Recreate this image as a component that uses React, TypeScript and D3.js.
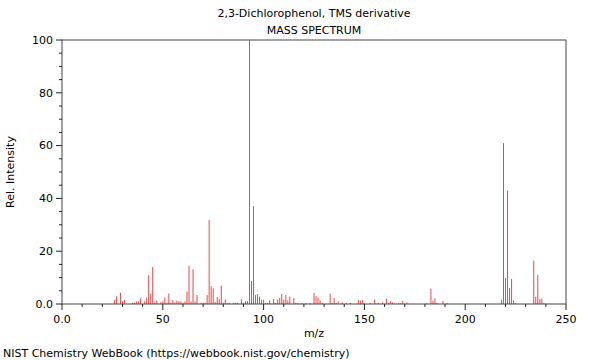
import * as d3 from "d3";

// m/z values and relative intensities
const MZ = [
  26, 27, 29, 30, 31, 35, 36, 37, 38, 39, 41, 42, 43, 44, 45, 46, 47, 49, 50, 51,
  52, 53, 54, 55, 56, 57, 58, 59, 60, 61, 62, 63, 64, 65, 66, 67, 69, 70, 71, 72,
  73, 74, 75, 76, 77, 78, 79, 80, 81, 82, 83, 85, 86, 87, 89, 90, 91, 92, 93, 94,
  95, 96, 97, 98, 99, 100, 101, 102, 103, 105, 106, 107, 108, 109, 110, 111, 112, 113, 115, 116,
  117, 119, 121, 123, 125, 126, 127, 128, 129, 133, 134, 135, 136, 137, 139, 141, 143, 147, 148, 149,
  150, 153, 155, 157, 159, 161, 162, 163, 164, 165, 167, 168, 169, 171, 181, 183, 184, 185, 186, 189,
  191, 218, 219, 220, 221, 222, 223, 224, 225, 234, 235, 236, 237, 238, 239,
];
const INTENSITY = [
  1.5, 2.9, 4.3, 1, 1.5, 0.5, 0.5, 1, 1, 2.2, 1, 2.4, 10.9, 3.9, 14.0, 0.6, 1.3, 0.6, 1, 2.4,
  0.5, 4, 0.5, 1.5, 0.6, 1.3, 1, 1, 0.5, 1, 4.7, 14.5, 1, 13.1, 1, 3.4, 0.5, 0.5, 0.5, 3.4,
  31.8, 6.8, 5.9, 0.7, 2.6, 1.8, 7, 0.5, 1.8, 0.4, 0.5, 0.5, 0.5, 0.5, 1.8, 0.5, 1.1, 1.1, 100, 8.7,
  37.1, 3.4, 3.8, 2.8, 1.6, 1.6, 0.4, 0.4, 1.4, 1.9, 0.4, 1.7, 2.3, 3.8, 1.6, 3.4, 1.4, 2.8, 2.3, 0.4,
  0.4, 0.4, 0.4, 0.4, 4.2, 3, 2.4, 1.4, 0.4, 3.9, 0.4, 2.3, 0.4, 1, 0.6, 0.4, 0.4, 1.5, 1.3, 1.5,
  0.3, 0.4, 1.6, 0.4, 0.6, 2, 0.4, 1, 0.6, 0.3, 0.3, 0.3, 1.2, 0.6, 0.4, 5.8, 1.2, 2.2, 0.4, 1.2,
  0.4, 1.6, 61, 9.8, 43, 6.1, 9.5, 1.4, 0.4, 16.5, 2.8, 11, 1.8, 2.1, 0.4,
];

const X_TICKS = [0, 50, 100, 150, 200, 250];
const Y_TICKS = [0, 20, 40, 60, 80, 100];

const TITLE = "2,3-Dichlorophenol, TMS derivative";
const SUBTITLE = "MASS SPECTRUM";
const FOOTER = "NIST Chemistry WebBook (https://webbook.nist.gov/chemistry)";

const W = 600;
const H = 360;
const margin = { top: 40, right: 34, bottom: 56, left: 62 };
const FONT = "DejaVu Sans, sans-serif";
const PEAK = "#ec4646";

export default function App() {
  const x = d3.scaleLinear().domain([0, 250]).range([margin.left, W - margin.right]);
  const y = d3.scaleLinear().domain([0, 100]).range([H - margin.bottom, margin.top]);
  const [x0, x1] = x.range();
  const [y0, y1] = y.range();

  const xMinor = d3.range(0, 251, 10);
  const yMinor = d3.range(0, 101, 5);
  const fmt = (v: number) => (v === 0 ? "0.0" : String(v));

  return (
    <svg
      width={W}
      height={H}
      style={{ position: "absolute", left: 0, top: 0, background: "#fff" }}
      fontFamily={FONT}
    >
      <text x={314} y={17} fontSize={11} textAnchor="middle" fill="#000">
        {TITLE}
      </text>
      <text x={314} y={34} fontSize={11} textAnchor="middle" fill="#000">
        {SUBTITLE}
      </text>

      {/* peaks */}
      {MZ.map((m, i) => (
        <line
          key={m}
          x1={x(m)}
          x2={x(m)}
          y1={y(0)}
          y2={y(INTENSITY[i])}
          stroke={PEAK}
          strokeWidth={1}
        />
      ))}

      {/* frame */}
      <rect
        x={x0}
        y={y1}
        width={x1 - x0}
        height={y0 - y1}
        fill="none"
        stroke="#444"
        strokeWidth={1}
      />

      {/* x ticks */}
      {xMinor.map((v) => {
        const major = v % 50 === 0;
        return (
          <line
            key={"xt" + v}
            x1={x(v)}
            x2={x(v)}
            y1={y0}
            y2={y0 + (major ? 6 : 3)}
            stroke="#222"
          />
        );
      })}
      {X_TICKS.map((v) => (
        <text key={"xl" + v} x={x(v)} y={y0 + 19} fontSize={11} textAnchor="middle" fill="#000">
          {fmt(v)}
        </text>
      ))}

      {/* y ticks */}
      {yMinor.map((v) => {
        const major = v % 20 === 0;
        return (
          <line
            key={"yt" + v}
            x1={x0 - (major ? 6 : 3)}
            x2={x0}
            y1={y(v)}
            y2={y(v)}
            stroke="#222"
          />
        );
      })}
      {Y_TICKS.map((v) => (
        <text
          key={"yl" + v}
          x={x0 - 9}
          y={y(v)}
          dy="0.35em"
          fontSize={11}
          textAnchor="end"
          fill="#000"
        >
          {fmt(v)}
        </text>
      ))}

      <text x={(x0 + x1) / 2} y={337} fontSize={11} textAnchor="middle" fill="#000">
        m/z
      </text>
      <text
        transform={`translate(14,${(y0 + y1) / 2}) rotate(-90)`}
        fontSize={11}
        textAnchor="middle"
        fill="#000"
      >
        Rel. Intensity
      </text>
      <text x={3} y={357} fontSize={11} fill="#000">
        {FOOTER}
      </text>
    </svg>
  );
}
